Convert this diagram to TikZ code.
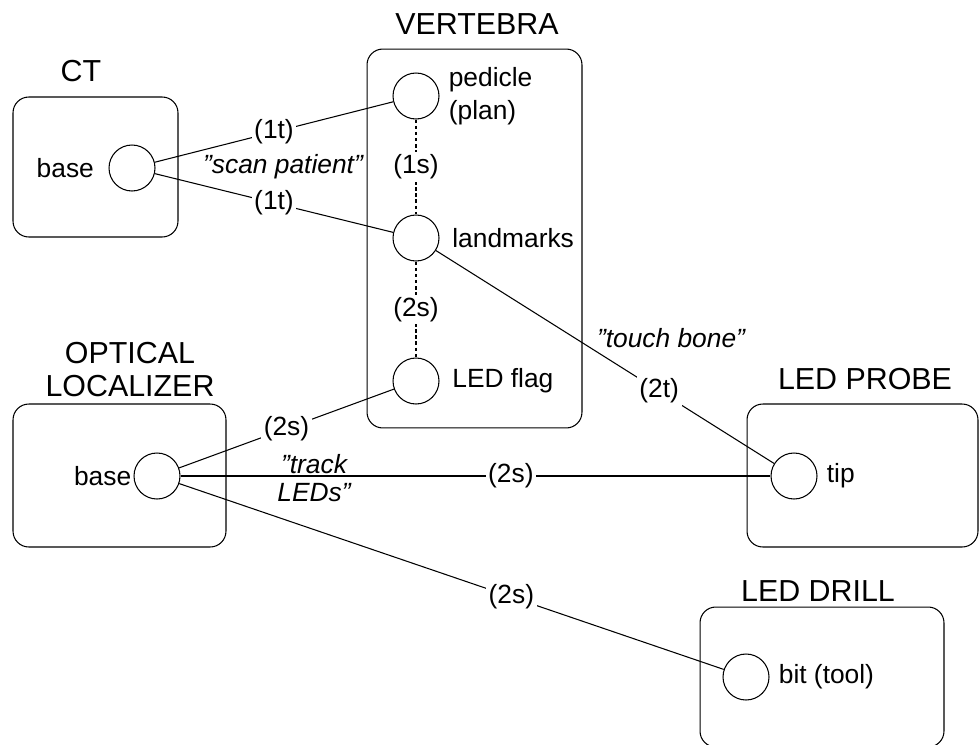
\documentclass[tikz,border=0pt]{standalone}
\usepackage{fontspec}
\setmainfont{Liberation Sans}
\usetikzlibrary{positioning}

\begin{document}
\begin{tikzpicture}[x=0.02cm, y=-0.02cm, line width=0.6pt,
  every node/.style={font=\fontsize{15}{18.5}\selectfont},
  box/.style={draw, rounded corners=9pt, inner sep=0pt},
  title/.style={font=\fontsize{17.3}{18.8}\selectfont, align=center, inner sep=0pt, anchor=south},
  port/.style={draw, circle, minimum size=0.92cm, inner sep=0pt},
  tag/.style={inner sep=0pt, align=left},
  lab/.style={fill=white, inner sep=1.5pt},
  say/.style={font=\fontsize{15}{16}\selectfont\itshape, align=center, inner sep=0pt},
  link/.style={dash pattern=on 2pt off 1.5pt}]
\clip (0,0) rectangle (979,744);
% frames
\node[box, minimum width=3.3cm, minimum height=2.8cm] (ctbox) at (95.5,167) {};
\node[box, minimum width=4.3cm, minimum height=7.58cm] (vertbox) at (474.5,238.5) {};
\node[box, minimum width=4.26cm, minimum height=2.86cm] (locbox) at (119.5,475.5) {};
\node[box, minimum width=4.62cm, minimum height=2.86cm] (probebox) at (862.5,475.5) {};
\node[box, minimum width=4.88cm, minimum height=2.8cm] (drillbox) at (822,677) {};
\node[title] (cttitle) at (81,82) {CT};
\node[title] (verttitle) at (477,35) {VERTEBRA};
\node[title] (loctitle) at (130,397) {OPTICAL\\LOCALIZER};
\node[title] (probetitle) at (865,390) {LED PROBE};
\node[title] (drilltitle) at (818,602) {LED DRILL};
% frames of reference
\node[port] (ctbase) at (132,168) {};
\node[port] (pedicle) at (416,96) {};
\node[port] (landmarks) at (416,238) {};
\node[port] (flag) at (416,381) {};
\node[port] (locbase) at (157,476) {};
\node[port] (tip) at (794,476) {};
\node[port] (bit) at (746,677) {};
\node[tag, left=8pt of ctbase] (ctbasetag) {base};
\node[tag, right=5pt of pedicle] (pedicletag) {pedicle\\(plan)};
\node[tag, right=7pt of landmarks] (landmarkstag) {landmarks};
\node[tag, right=7pt of flag] (flagtag) {LED flag};
\node[tag, left=1pt of locbase] (locbasetag) {base};
\node[tag, right=5pt of tip] (tiptag) {tip};
\node[tag, right=5pt of bit] (bittag) {bit (tool)};
% transforms
\draw (ctbase) -- node[lab] {(1t)} (pedicle);
\draw (ctbase) -- node[lab] {(1t)} (landmarks);
\draw[link] (pedicle) -- node[lab] {(1s)} (landmarks);
\draw[link] (landmarks) -- node[lab] {(2s)} (flag);
\draw (landmarks) -- node[lab, pos=0.66] {(2t)} (tip);
\draw (flag) -- node[lab] {(2s)} (locbase);
\draw (locbase) -- node[lab, pos=0.56] {(2s)} (tip);
\draw (locbase) -- node[lab, pos=0.61] {(2s)} (bit);
\node[say] (scan) at (283,167) {"scan patient"};
\node[say] (touch) at (671,338) {"touch bone"};
\node[say] (track) at (314,478) {"track\\LEDs"};
\end{tikzpicture}
\end{document}
